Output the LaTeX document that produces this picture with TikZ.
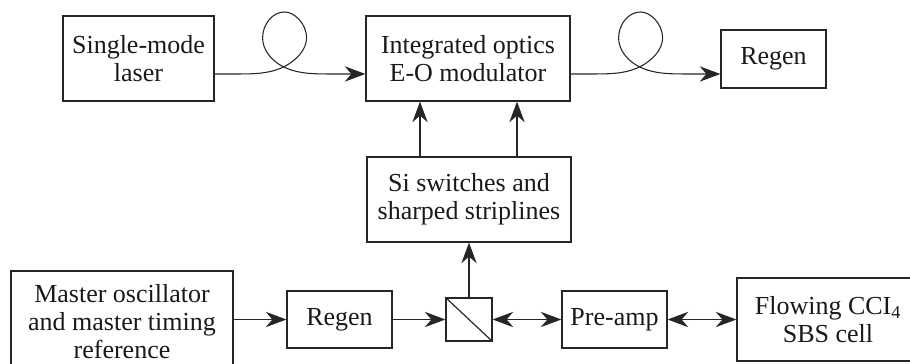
\documentclass[tikz,border=0pt]{standalone}
\usepackage{fontspec}
\setmainfont{Liberation Serif}
\usetikzlibrary{arrows.meta}
\begin{document}
\begin{tikzpicture}[x=0.75pt,y=-0.75pt,
  box/.style={draw=black!85,line width=0.9pt,inner sep=0pt,align=center,
    font=\fontsize{19.5}{21}\selectfont,text=black!90},
  conn/.style={line width=0.9pt,draw=black!85},
  tip/.style={Stealth[length=15.5pt,width=11.5pt,inset=5pt]},
  arr/.style={conn,-{Stealth[length=15.5pt,width=11.5pt,inset=5pt]}},
  darr/.style={conn,{Stealth[length=15.5pt,width=11.5pt,inset=5pt]}-{Stealth[length=15.5pt,width=11.5pt,inset=5pt]}},
  fiber/.style={arr,line width=0.8pt}]
\useasboundingbox (0,0) rectangle (910,364);
\node[box,minimum width=113.25pt,minimum height=63.75pt] (laser) at (138.5,58.5) {Single-mode\\laser};
\node[box,minimum width=153pt,minimum height=63.75pt] (mod) at (468,58.5) {Integrated optics\\E-O modulator};
\node[box,minimum width=78.75pt,minimum height=43.5pt] (regen1) at (773.5,59) {Regen};
\node[box,minimum width=153pt,minimum height=63.75pt] (si) at (469,199.5) {Si switches and\\sharped striplines};
\node[box,minimum width=166.5pt,minimum height=75.75pt] (master) at (122,321.5) {Master oscillator\\and master timing\\reference};
\node[box,minimum width=78.75pt,minimum height=42.75pt] (regen2) at (339.5,319.5) {Regen};
\node[box,minimum width=34.5pt,minimum height=32.25pt] (split) at (469,319.5) {};
\node[box,minimum width=78.75pt,minimum height=42.75pt] (preamp) at (614.5,319.5) {Pre-amp};
\node[box,minimum width=136.5pt,minimum height=62.25pt] (flowing) at (828,319.5) {Flowing CCI\textsubscript{4}\\SBS cell};
\draw[conn] (split.north west) -- (split.south east);
% fibres with loops
\draw[fiber] ([yshift=-11.6pt]laser.east) -- ++(26,0)
  .. controls +(22,0) and +(-11,5) .. ++(43,-7)
  .. controls +(12,-6) and +(0,12) .. ++(23,-29)
  .. controls +(0,-14) and +(10,0) .. ++(-22,-26)
  .. controls +(-12,0) and +(0,-14) .. ++(-22,26)
  .. controls +(0,12) and +(-12,-6) .. ++(21,29)
  .. controls +(11,5) and +(-22,0) .. ++(43,7)
  -- ([yshift=-11.6pt]mod.west);
\draw[fiber] ([yshift=-11.6pt]mod.east) -- ++(26,0)
  .. controls +(22,0) and +(-11,5) .. ++(43,-7)
  .. controls +(12,-6) and +(0,12) .. ++(23,-29)
  .. controls +(0,-14) and +(10,0) .. ++(-22,-26)
  .. controls +(-12,0) and +(0,-14) .. ++(-22,26)
  .. controls +(0,12) and +(-12,-6) .. ++(21,29)
  .. controls +(11,5) and +(-22,0) .. ++(43,7)
  -- ([yshift=-11.25pt]regen1.west);
% electrical connections
\draw[arr] ([xshift=-36.75pt]si.north) -- ([xshift=-36.75pt]si.north |- mod.south);
\draw[arr] ([xshift=36pt]si.north) -- ([xshift=36pt]si.north |- mod.south);
\draw[arr] (split.north) -- (si.south);
\draw[arr] (master.east |- regen2.west) -- (regen2.west);
\draw[arr] (regen2.east) -- (split.west);
\draw[darr] (split.east) -- (preamp.west);
\draw[darr] (preamp.east) -- (flowing.west |- preamp.east);
\end{tikzpicture}
\end{document}
